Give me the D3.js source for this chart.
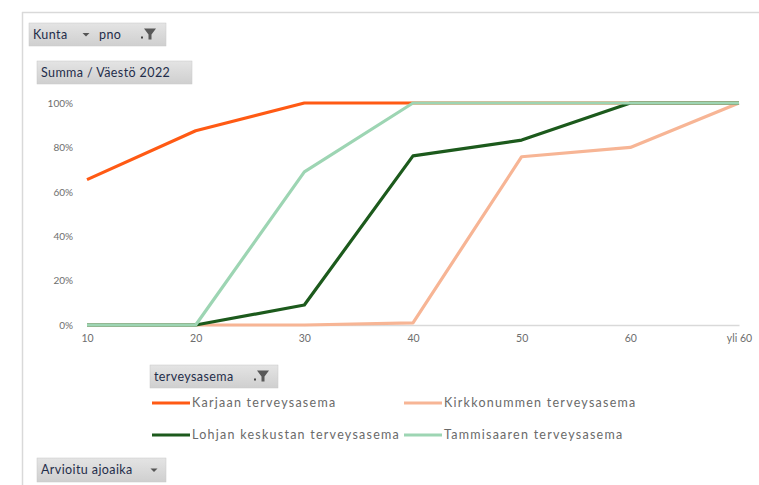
<!DOCTYPE html>
<html><head><meta charset="utf-8">
<script src="https://cdn.jsdelivr.net/npm/d3@7"></script>
<style>
html,body{margin:0;padding:0;background:#fff;}
svg{display:block;font-family:Lato,"Open Sans",sans-serif;}
</style></head>
<body><svg id="c" width="759" height="485"></svg>
<script>
const categories = ["10","20","30","40","50","60","yli 60"];
const seriesNames = ["Karjaan terveysasema","Kirkkonummen terveysasema","Lohjan keskustan terveysasema","Tammisaaren terveysasema"];
const karjaa      = [0.655, 0.875, 1.00, 1.00, 1.00, 1.00, 1.00];
const kirkkonummi = [0.00, 0.00, 0.00, 0.01, 0.758, 0.80, 1.00];
const lohja       = [0.00, 0.00, 0.09, 0.762, 0.833, 1.00, 1.00];
const tammisaari  = [0.00, 0.00, 0.69, 1.00, 1.00, 1.00, 1.00];
const yTicks = [0, 0.2, 0.4, 0.6, 0.8, 1.0];
const colors = ["#FF5A14", "#F7B595", "#1C5A1C", "#9DD5B3"];
const series = [karjaa, kirkkonummi, lohja, tammisaari];

const svg = d3.select("#c");

// outer frame lines
svg.append("line").attr("x1",22.5).attr("x2",22.5).attr("y1",12).attr("y2",485).attr("stroke","#d9d9d9").attr("stroke-width",1.5);
svg.append("line").attr("x1",22).attr("x2",759).attr("y1",12.5).attr("y2",12.5).attr("stroke","#d9d9d9").attr("stroke-width",1.5);

const defs = svg.append("defs");
const grad = defs.append("linearGradient").attr("id","btn").attr("x1",0).attr("x2",0).attr("y1",0).attr("y2",1);
grad.append("stop").attr("offset","0%").attr("stop-color","#e4e4e4");
grad.append("stop").attr("offset","100%").attr("stop-color","#cfcfcf");

function button(x, y, w, h, label, icon) {
  const g = svg.append("g").attr("transform",`translate(${x},${y})`);
  g.append("rect").attr("width",w).attr("height",h).attr("fill","url(#btn)").attr("stroke","#c8c8c8").attr("stroke-width",0.5);
  label.forEach(l => {
    g.append("text").attr("x",l.x).attr("y",h/2).attr("dy","0.35em").attr("font-size",12.5)
      .attr("letter-spacing",0.4).attr("fill","#1f2d4a").text(l.t);
  });
  icon.forEach(ic => {
    if (ic.type === "drop") {
      g.append("path").attr("d",`M${ic.x-3.5},${h/2-1.5} L${ic.x+3.5},${h/2-1.5} L${ic.x},${h/2+2} Z`).attr("fill","#555");
    } else {
      g.append("rect").attr("x",ic.x-9).attr("y",h/2+2).attr("width",2).attr("height",2).attr("fill","#444");
      g.append("path").attr("d",`M${ic.x-6},${h/2-6} L${ic.x+6},${h/2-6} L${ic.x+1.5},${h/2} L${ic.x+1.5},${h/2+5} L${ic.x-1.5},${h/2+5} L${ic.x-1.5},${h/2} Z`).attr("fill","#595959");
    }
  });
}
button(29, 23, 137, 23, [{x:4,t:"Kunta"},{x:70,t:"pno"}], [{type:"drop",x:57},{type:"filter",x:121}]);
button(37, 61, 155, 23, [{x:4,t:"Summa  / Väestö 2022"}], []);
button(150, 365, 128, 23, [{x:4,t:"terveysasema"}], [{type:"filter",x:113}]);
button(37, 458, 129, 24, [{x:4,t:"Arvioitu ajoaika"}], [{type:"drop",x:117}]);

const x = d3.scalePoint().domain(categories).range([87, 739]);
const y = d3.scaleLinear().domain([0, 1]).range([325, 103]);

// y axis
const ya = svg.append("g").attr("transform","translate(87,0)")
  .call(d3.axisLeft(y).tickValues(yTicks).tickFormat(d3.format(".0%")).tickSize(0).tickPadding(14));
ya.select(".domain").remove();
ya.selectAll("text").attr("font-size",10).attr("fill","#6e6e6e").attr("font-family","Lato,'Open Sans',sans-serif");

// x axis
const xa = svg.append("g").attr("transform","translate(0,325)")
  .call(d3.axisBottom(x).tickSize(0).tickPadding(10));
xa.select(".domain").attr("stroke","#d9d9d9").attr("stroke-width",1.5);
xa.selectAll("text").attr("font-size",10.5).attr("fill","#6e6e6e").attr("font-family","Lato,'Open Sans',sans-serif");

// lines
const line = d3.line().x((d,i) => x(categories[i])).y(d => y(d));
series.forEach((s, k) => {
  svg.append("path").datum(s).attr("d", line).attr("fill","none")
    .attr("stroke", colors[k]).attr("stroke-width",3.2).attr("stroke-linejoin","round");
});

// legend
const legPos = [[152,403],[404,403],[152,435],[404,435]];
seriesNames.forEach((n, k) => {
  const [lx, ly] = legPos[k];
  svg.append("line").attr("x1",lx).attr("x2",lx+38).attr("y1",ly).attr("y2",ly)
    .attr("stroke",colors[k]).attr("stroke-width",3.2);
  svg.append("text").attr("x",lx+40).attr("y",ly).attr("dy","0.35em").attr("font-size",12.5)
    .attr("fill","#6a6a6a").attr("letter-spacing",1.25).text(n);
});
</script></body></html>
